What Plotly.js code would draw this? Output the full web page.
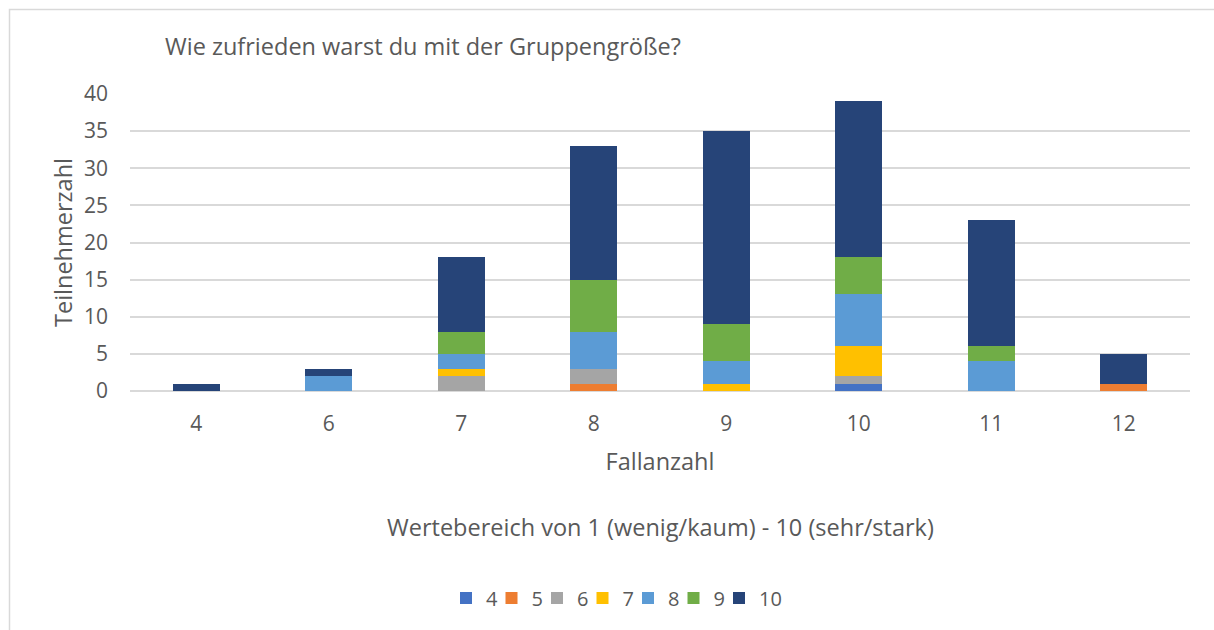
<!DOCTYPE html>
<html>
<head>
<meta charset="utf-8">
<script src="https://cdn.plot.ly/plotly-3.0.1.min.js"></script>
<style>
html,body{margin:0;padding:0;background:#fff;}
#chart{width:1214px;height:630px;}
</style>
</head>
<body>
<div id="chart"></div>
<script>
const categories = ["4", "6", "7", "8", "9", "10", "11", "12"];
const seriesNames = ["4", "5", "6", "7", "8", "9", "10"];
const s4  = [0, 0, 0, 0, 0, 1, 0, 0];
const s5  = [0, 0, 0, 1, 0, 0, 0, 1];
const s6  = [0, 0, 2, 2, 0, 1, 0, 0];
const s7  = [0, 0, 1, 0, 1, 4, 0, 0];
const s8  = [0, 2, 2, 5, 3, 7, 4, 0];
const s9  = [0, 0, 3, 7, 5, 5, 2, 0];
const s10 = [1, 1, 10, 18, 26, 21, 17, 4];
const seriesValues = [s4, s5, s6, s7, s8, s9, s10];
const colors = ["#4472C4", "#ED7D31", "#A5A5A5", "#FFC000", "#5B9BD5", "#70AD47", "#264478"];

const font = "'Open Sans', sans-serif";
const txt = "#595959";

const legendId = i => (i === 0 ? "legend" : "legend" + (i + 1));

const traces = seriesNames.map((n, i) => ({
  type: "bar",
  name: n,
  x: categories,
  y: seriesValues[i],
  legend: legendId(i),
  marker: {color: colors[i], line: {width: 0}},
  hoverinfo: "x+y+name"
}));

const L = 130, R = 24, T = 94, B = 239, W = 1214, H = 630;
const pw = W - L - R, ph = H - T - B;
const px = v => (v - L) / pw;
const py = v => (H - B - v) / ph;

const layout = {
  width: W, height: H,
  margin: {l: L, r: R, t: T, b: B, pad: 0},
  barmode: "stack",
  bargap: 0.645,
  paper_bgcolor: "#fff",
  plot_bgcolor: "#fff",
  font: {family: font, color: txt, size: 21},
  title: {text: "Wie zufrieden warst du mit der Gruppengröße?", x: px(165), xref: "paper", xanchor: "left",
          y: 1 - 47 / H, yanchor: "middle", font: {size: 23.5, color: txt, family: font}},
  xaxis: {type: "category", showgrid: false, zeroline: false, showline: false, ticks: "",
          tickfont: {size: 21, color: txt}, ticklabelstandoff: 18,
          title: {text: "Fallanzahl", font: {size: 23.5, color: txt}, standoff: 17}},
  yaxis: {range: [0, 40], dtick: 5, showgrid: true, gridcolor: "#d9d9d9", gridwidth: 1.5,
          zeroline: true, zerolinecolor: "#d9d9d9", zerolinewidth: 1.5, showline: false, ticks: "",
          tickfont: {size: 21, color: txt}, ticklabelstandoff: 21,
          title: {text: "Teilnehmerzahl", font: {size: 23.5, color: txt}, standoff: 4}},
  showlegend: true,
  annotations: [{
    text: "Wertebereich von 1 (wenig/kaum) - 10 (sehr/stark)", showarrow: false,
    xref: "paper", yref: "paper", x: 0.5, y: py(527), xanchor: "center", yanchor: "middle",
    font: {size: 23.5, color: txt, family: font}
  }],
  shapes: [{
    type: "rect", xref: "paper", yref: "paper", layer: "below",
    x0: px(9.5), x1: px(1220), y0: py(640), y1: py(9.5),
    line: {color: "#d9d9d9", width: 1.5}, fillcolor: "rgba(0,0,0,0)"
  }]
};

seriesNames.forEach((n, i) => {
  layout[legendId(i)] = {
    orientation: "h", yanchor: "middle", y: py(598), xanchor: "left", x: px(446 + i * 45.5),
    font: {size: 20, color: txt}, traceorder: "normal", itemclick: false,
    bgcolor: "rgba(0,0,0,0)"
  };
});

Plotly.newPlot("chart", traces, layout, {displayModeBar: false, staticPlot: false});
</script>
</body>
</html>
